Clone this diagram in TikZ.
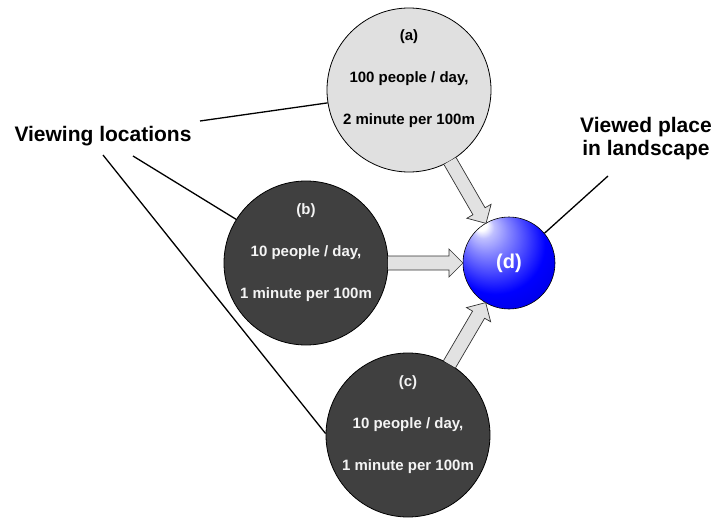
\documentclass[tikz,border=0pt]{standalone}
\usepackage{fontspec}
\setmainfont{Liberation Sans}
\definecolor{lightfill}{HTML}{E0E0E0}
\definecolor{darkfill}{HTML}{404040}
\definecolor{arrowfill}{HTML}{E2E2E2}
\definecolor{lighttext}{HTML}{F4F4F4}
\pgfdeclareradialshading{spheresh}{\pgfpoint{-16bp}{22bp}}{%
  color(0bp)=(white);
  color(3bp)=(white);
  color(6bp)=(blue!25!white);
  color(12bp)=(blue!48!white);
  color(19bp)=(blue!72!white);
  color(27bp)=(blue);
  color(39bp)=(blue!86!black);
  color(50bp)=(blue!58!black)}
\begin{document}
\begin{tikzpicture}[x=1pt,y=-1pt,
  loc/.style={circle, draw=black, line width=0.8pt, minimum size=164pt, inner sep=0pt},
  lightloc/.style={loc, fill=lightfill},
  darkloc/.style={loc, fill=darkfill},
  circtext/.style={font=\fontsize{15}{42}\selectfont\bfseries, align=center, inner sep=0pt},
  pointer/.style={draw=black, line width=1.3pt},
  blockarrow/.style={draw=black!80, line width=0.7pt, fill=arrowfill, line join=miter},
  biglabel/.style={font=\fontsize{21}{23}\selectfont\bfseries, align=center, inner sep=0pt}]
\useasboundingbox (0,0) rectangle (716,519);

% locations and viewed place
\node[lightloc] (a) at (409,90) {};
\node[darkloc] (b) at (306,263) {};
\node[darkloc] (c) at (408,435) {};
\node[circle, minimum size=92pt, inner sep=0pt, draw=black, line width=0.6pt,
      shading=spheresh] (d) at (509,263) {};

% texts in circles
\node[circtext, text=black] (ta) at ([yshift=11pt]a.center)
  {(a)\\100 people / day,\\2 minute per 100m};
\node[circtext, text=lighttext] (tb) at ([yshift=10pt]b.center)
  {(b)\\10 people / day,\\1 minute per 100m};
\node[circtext, text=lighttext] (tc) at ([yshift=10pt]c.center)
  {(c)\\10 people / day,\\1 minute per 100m};
\node[font=\fontsize{20}{24}\selectfont\bfseries, text=white, inner sep=0pt] (td) at (d.center) {(d)};

% block arrows (along centre lines, from circle edge to sphere edge)
\begin{scope}[shift={(a.center)}, rotate=-60]
  \filldraw[blockarrow] (82,-7) -- (140,-7) -- (140,-14) -- (154,0) -- (140,14) -- (140,7) -- (82,7);
\end{scope}
\begin{scope}[shift={(b.center)}]
  \filldraw[blockarrow] (82,-7) -- (143,-7) -- (143,-14) -- (157,0) -- (143,14) -- (143,7) -- (82,7);
\end{scope}
\begin{scope}[shift={(c.center)}, rotate=59.6]
  \filldraw[blockarrow] (82,-7) -- (139.5,-7) -- (139.5,-14) -- (153.5,0) -- (139.5,14) -- (139.5,7) -- (82,7);
\end{scope}

% labels
\node[biglabel, anchor=base] (vl) at (103,142) {Viewing locations};
\node[biglabel, anchor=base] (vp) at (646,155) {Viewed place\\in landscape};

% pointer lines
\coordinate (p1) at (200,121);
\coordinate (p2) at (133,156);
\coordinate (p3) at (103,155);
\coordinate (p4) at (608,176);
\draw[pointer] (p1) -- (a.189);
\draw[pointer] (p2) -- (b.148);
\draw[pointer] (p3) -- (c.179);
\draw[pointer] (p4) -- (d.40);
\end{tikzpicture}
\end{document}
